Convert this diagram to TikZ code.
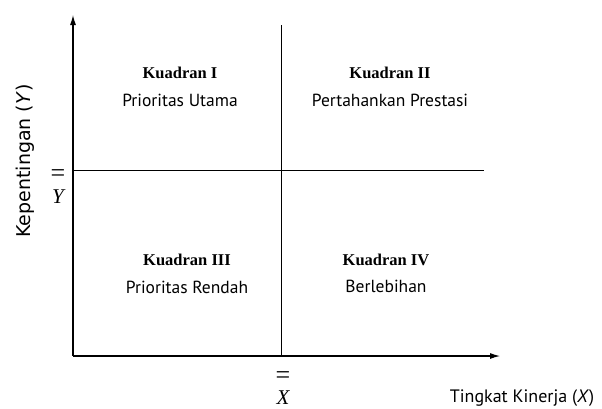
\documentclass[tikz,border=0pt]{standalone}
\usepackage{fontspec}
\setmainfont{Liberation Serif}
\newfontfamily\qsans{PT Sans}
\newfontfamily\vsans{DejaVu Sans}
\usetikzlibrary{arrows.meta}
\tikzset{
  axisline/.style={line width=1.1pt,-{Latex[length=10pt,width=6pt]}},
  meanline/.style={line width=1pt},
  qtitle/.style={font=\fontsize{16.5}{18}\selectfont\bfseries, inner sep=0pt},
  qtext/.style={font=\qsans\fontsize{17.5}{19}\selectfont, inner sep=0pt},
  lbl/.style={inner sep=0pt},
  barlbl/.style={inner sep=0pt, font=\fontsize{21}{23}\selectfont\itshape},
  dbar/.style={inner sep=0pt, font=\fontsize{26}{28}\selectfont}
}
\begin{document}
\begin{tikzpicture}[x=1pt,y=-1pt]
\useasboundingbox (0,0) rectangle (602,408);
\coordinate (O) at (73,356);
\coordinate (ytop) at (73,15);
\coordinate (xend) at (500,356);
\coordinate (hL) at (73,170);
\coordinate (hR) at (484,170);
\coordinate (vT) at (281,25);
\coordinate (vB) at (281,356);
\draw[axisline] (O) -- (ytop);
\draw[axisline] (O) -- (xend);
\draw[meanline] (hL) -- (hR);
\draw[meanline] (vT) -- (vB);
% quadrants
\node[qtitle] (k1) at (180,73) {Kuadran I};
\node[qtext] (t1) at (180,100) {Prioritas Utama};
\node[qtitle] (k2) at (390,73) {Kuadran II};
\node[qtext] (t2) at (390,100) {Pertahankan Prestasi};
\node[qtitle] (k3) at (187,260) {Kuadran III};
\node[qtext] (t3) at (187,287) {Prioritas Rendah};
\node[qtitle] (k4) at (386,260) {Kuadran IV};
\node[qtext] (t4) at (386,286) {Berlebihan};
% axis labels
\node[lbl, rotate=90, font=\vsans\fontsize{19}{21}\selectfont] (ylab) at (25,161) {Kepentingan (\textit{Y})};
\node[lbl, font=\qsans\fontsize{18}{20}\selectfont] (xlab) at (522,398) {Tingkat Kinerja (\textit{X})};
\node[barlbl] (ybar) at (58,197) {Y};
\node[dbar] (ybareq) at (58,176) {=};
\node[barlbl] (xbar) at (283,398) {X};
\node[dbar] (xbareq) at (283,378) {=};
\end{tikzpicture}
\end{document}
